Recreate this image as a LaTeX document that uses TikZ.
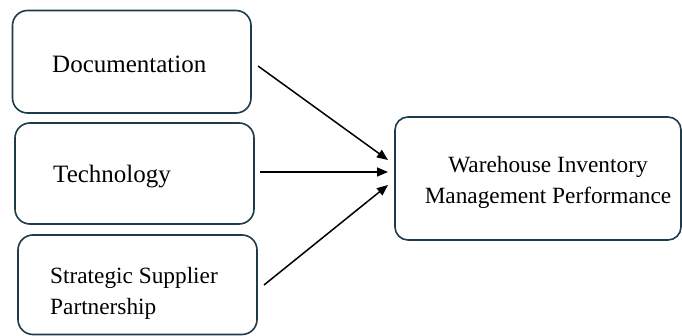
\documentclass[tikz,border=0pt]{standalone}
\usepackage{fontspec}
\setmainfont{Liberation Serif}
\usetikzlibrary{arrows.meta}
\definecolor{boxline}{HTML}{1F3A4B}
\begin{document}
\begin{tikzpicture}[x=1pt,y=-1pt,
  box/.style={draw=boxline, line width=1.6pt, rounded corners=15pt},
  lbl/.style={anchor=west, align=left, inner sep=0pt},
  big/.style={font=\fontsize{25}{31}\selectfont},
  small/.style={font=\fontsize{23.3}{31}\selectfont},
  conn/.style={draw=black, line width=1.5pt, -{Triangle[length=11pt,width=9pt]}}]
\useasboundingbox (0,0) rectangle (682,336);
\draw[box] (12.5,10.5) rectangle (251,113);
\draw[box] (15,123) rectangle (254,224);
\draw[box] (18,235) rectangle (257,334.5);
\draw[box, rounded corners=13pt] (395,117) rectangle (681,240);
\node[lbl, big] (doc) at (52,64) {Documentation};
\node[lbl, big] (tech) at (53,177) {Technology};
\node[lbl, small] (ssp) at (50,293) {Strategic Supplier\\Partnership};
\node[small, align=center, inner sep=0pt] (wim) at (548,182) {Warehouse Inventory\\Management Performance};
\coordinate (s1) at (258,66);
\coordinate (s2) at (260,172);
\coordinate (s3) at (264,285);
\coordinate (t1) at (388,160);
\coordinate (t2) at (388,172);
\coordinate (t3) at (388,185);
\draw[conn] (s1) -- (t1);
\draw[conn] (s2) -- (t2);
\draw[conn] (s3) -- (t3);
\end{tikzpicture}
\end{document}
